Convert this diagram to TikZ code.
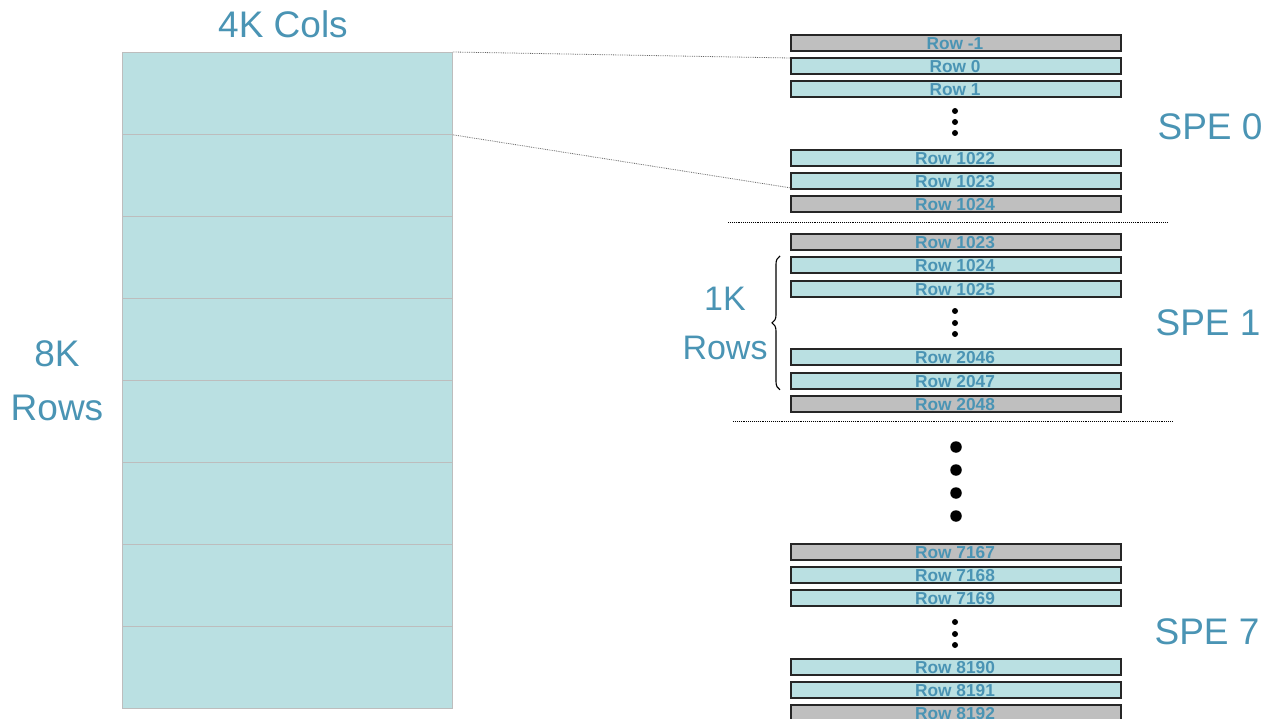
\documentclass[tikz,border=0pt]{standalone}
\usepackage{fontspec}
\setmainfont{Liberation Sans}
\usetikzlibrary{decorations.pathreplacing}
\definecolor{txtblue}{HTML}{4A94B4}
\definecolor{cellfill}{HTML}{BAE0E2}
\definecolor{grayfill}{HTML}{BFBFBF}
\definecolor{matline}{HTML}{BDBDBD}
\begin{document}
\begin{tikzpicture}[x=1pt,y=-1pt,
  bar/.style={draw=black!85,line width=1.8pt,minimum width=330pt,minimum height=16pt,inner sep=0pt,anchor=north west},
  cellbar/.style={bar,fill=cellfill},
  halobar/.style={bar,fill=grayfill},
  rowlbl/.style={text=txtblue,font=\fontsize{17.3}{17.3}\bfseries\selectfont,anchor=base,inner sep=0pt},
  big/.style={text=txtblue,font=\fontsize{37}{37}\selectfont,anchor=base,inner sep=0pt},
  mid/.style={text=txtblue,font=\fontsize{34}{34}\selectfont,anchor=base,inner sep=0pt},
  sdot/.style={circle,fill=black,draw=none,inner sep=0pt,minimum size=6pt},
  bdot/.style={circle,fill=black,draw=none,inner sep=0pt,minimum size=11.5pt},
  matcell/.style={draw=matline,line width=0.8pt,fill=cellfill,minimum width=330pt,minimum height=82pt,inner sep=0pt,anchor=north west},
  sepline/.style={densely dotted,line width=0.9pt,black},
  linkline/.style={densely dotted,line width=0.8pt,black!60}]
\useasboundingbox (0,0) rectangle (1273,719);

% matrix cells
\foreach \i in {0,...,7} {
  \node[matcell] (m\i) at (122,52+82*\i) {};
}

% labels
\node[big] (cols) at (283,38) {4K Cols};
\node[big] (eightk) at (57,366) {8K};
\node[big] (rowsA) at (57,420) {Rows};
\node[mid] (onek) at (725,310) {1K};
\node[mid] (rowsB) at (725,359) {Rows};
\node[big] (spe0) at (1210,140) {SPE 0};
\node[big] (spe1) at (1208,335) {SPE 1};
\node[big] (spe7) at (1207,644) {SPE 7};

% row bars
\foreach \n/\y/\s/\t in {
  a0/34/halobar/Row -1, a1/57/cellbar/Row 0, a2/80/cellbar/Row 1,
  a3/149/cellbar/Row 1022, a4/172/cellbar/Row 1023, a5/195/halobar/Row 1024,
  b0/233/halobar/Row 1023, b1/256/cellbar/Row 1024, b2/280/cellbar/Row 1025,
  b3/348/cellbar/Row 2046, b4/372/cellbar/Row 2047, b5/395/halobar/Row 2048,
  c0/543/halobar/Row 7167, c1/566/cellbar/Row 7168, c2/589/cellbar/Row 7169,
  c3/658/cellbar/Row 8190, c4/681/cellbar/Row 8191, c5/704/halobar/Row 8192} {
  \node[\s] (\n) at (790,\y) {};
  \node[rowlbl] (\n t) at (955,\y+15.5) {\t};
}

% small vertical dots
\foreach \k/\ya/\yb/\yc in {p/111/122/133, q/311/323/334, r/622/634/645} {
  \node[sdot] (\k1) at (955,\ya) {};
  \node[sdot] (\k2) at (955,\yb) {};
  \node[sdot] (\k3) at (955,\yc) {};
}

% big dots
\foreach \i/\y in {1/447,2/470,3/493,4/516} {
  \node[bdot] (bd\i) at (956,\y) {};
}

% separators
\coordinate (s1l) at (728,222);
\coordinate (s1r) at (1168,222);
\coordinate (s2l) at (733,421);
\coordinate (s2r) at (1172,421);
\draw[sepline] (s1l) -- (s1r);
\draw[sepline] (s2l) -- (s2r);

% links from matrix to SPE0 rows
\draw[linkline] (m0.north east) -- ([yshift=-1pt]a1.north west);
\draw[linkline] (m0.south east) -- ([yshift=2pt]a4.south west);

% brace
\draw[line width=1.1pt,decorate,decoration={brace,amplitude=8pt}]
  ([xshift=-10pt]b4.south west) -- ([xshift=-10pt]b1.north west);
\end{tikzpicture}
\end{document}
